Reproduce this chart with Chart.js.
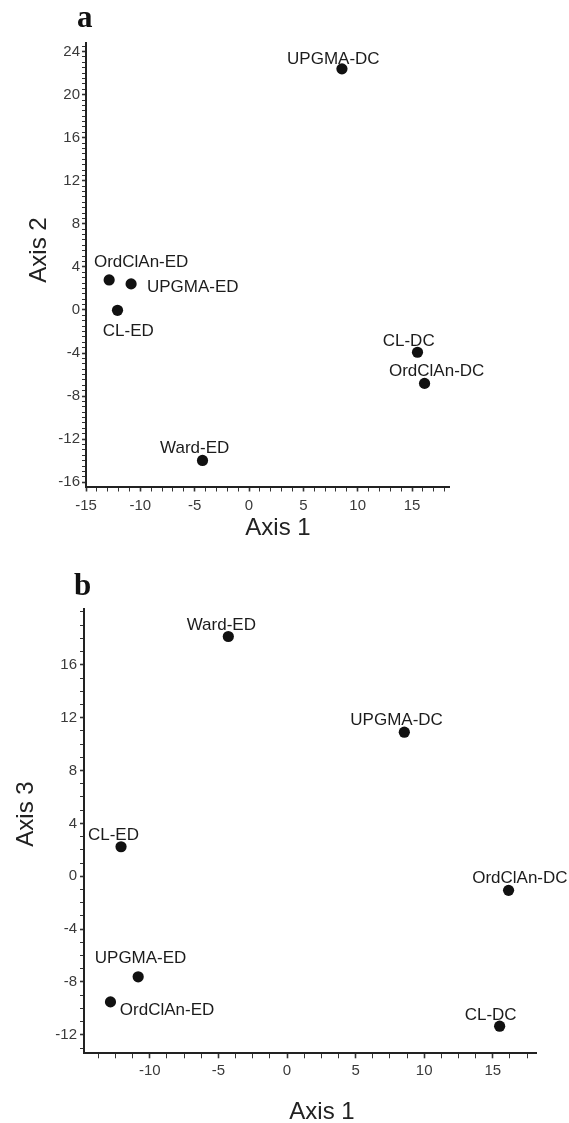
<!DOCTYPE html>
<html><head><meta charset="utf-8">
<script src="https://cdn.jsdelivr.net/npm/chart.js@4/dist/chart.umd.min.js"></script>
<style>
html,body{margin:0;padding:0;background:#fff;width:569px;height:1123px;overflow:hidden}
.wrap{position:absolute;left:0;width:569px}
canvas{display:block}
</style></head><body>
<div class="wrap" style="top:0;height:560px"><canvas id="ca" width="569" height="560"></canvas></div>
<div class="wrap" style="top:560px;height:563px"><canvas id="cb" width="569" height="563"></canvas></div>
<script>
// ---- data ----
const labels = ['UPGMA-DC','CL-DC','OrdClAn-DC','OrdClAn-ED','UPGMA-ED','CL-ED','Ward-ED'];
const axis1 = [8.55, 15.5, 16.15, -12.87, -10.85, -12.1, -4.28];
const axis2 = [22.4, -3.93, -6.82, 2.79, 2.42, -0.03, -13.98];
const axis3 = [10.9, -11.35, -1.07, -9.51, -7.61, 2.23, 18.14];
const ticksA_x = [-15, -10, -5, 0, 5, 10, 15];
const ticksA_y = [-16, -12, -8, -4, 0, 4, 8, 12, 16, 20, 24];
const ticksB_x = [-10, -5, 0, 5, 10, 15];
const ticksB_y = [-12, -8, -4, 0, 4, 8, 12, 16];

// ---- styling / layout ----
const FAM = '"Liberation Sans", Arial, Helvetica, sans-serif';
const offsetsA = [[-8.6,-11.3],[-8.8,-12.3],[12.1,-13.3],[32,-19.3],[61.6,2],[10.8,19.7],[-7.8,-13.3]];
const offsetsB = [[-7.7,-13],[-9,-12.7],[11.3,-13.6],[56.6,7.3],[2.4,-20],[-7.6,-12.7],[-7,-12.4]];

function round2(v){ return Math.round(v*100)/100; }

function makePlugin(offsets, letter, letterPos, xTitle, xTitlePos, yTitle, yTitlePos){
  return {
    id: 'deco',
    afterDatasetsDraw(chart){
      const ctx = chart.ctx;
      const meta = chart.getDatasetMeta(0);
      ctx.save();
      ctx.font = '17px ' + FAM;
      ctx.fillStyle = '#1c1c1c';
      ctx.textAlign = 'center';
      ctx.textBaseline = 'alphabetic';
      meta.data.forEach((pt, i) => {
        const o = offsets[i];
        ctx.fillText(labels[i], pt.x + o[0], pt.y + o[1] + 6.1);
      });
      // axis titles
      ctx.font = '24px ' + FAM;
      ctx.fillStyle = '#222';
      ctx.fillText(xTitle, xTitlePos[0], xTitlePos[1] + 8.6);
      ctx.save();
      ctx.translate(yTitlePos[0], yTitlePos[1]);
      ctx.rotate(-Math.PI/2);
      ctx.fillText(yTitle, 0, 8.6);
      ctx.restore();
      // panel letter
      ctx.font = 'bold 31px "Liberation Serif", "Times New Roman", serif';
      ctx.fillStyle = '#111';
      ctx.textAlign = 'left';
      ctx.fillText(letter, letterPos[0], letterPos[1]);
      ctx.restore();
    }
  };
}

function axisCfg(min, max, step, majors, tickLen, pad, fitKey, fitVal){
  return {
    type: 'linear', min, max,
    border: {display: true, color: '#222', width: 2},
    grid: {
      display: true, drawOnChartArea: false, drawTicks: true,
      tickLength: tickLen, tickColor: '#333',
      tickWidth: c => (c.tick && majors.includes(round2(c.tick.value))) ? 1.6 : 1
    },
    ticks: {
      stepSize: step, autoSkip: false, includeBounds: false, maxRotation: 0, minRotation: 0,
      padding: pad, color: '#3a3a3a', font: {size: 15, family: FAM},
      callback: v => { const r = round2(v); return majors.includes(r) ? String(r === 0 ? 0 : r) : ''; }
    },
    afterFit: s => { s[fitKey] = fitVal; }
  };
}

function makeChart(id, xs, ys, cfg){
  return new Chart(document.getElementById(id), {
    type: 'scatter',
    data: { datasets: [{
      data: xs.map((x, i) => ({x, y: ys[i]})),
      pointRadius: 5.6, pointHoverRadius: 5.6,
      backgroundColor: '#111', borderWidth: 0
    }]},
    options: {
      responsive: false, maintainAspectRatio: false, animation: false,
      layout: { padding: cfg.padding },
      plugins: { legend: {display: false}, tooltip: {enabled: false}, title: {display: false} },
      scales: { x: cfg.x, y: cfg.y }
    },
    plugins: [cfg.plugin]
  });
}

makeChart('ca', axis1, axis2, {
  padding: {left: 0, right: 120, top: 43, bottom: 0},
  x: axisCfg(-15, 18.4, 1, ticksA_x, 5, 5.5, 'height', 73.5),
  y: axisCfg(-16.4, 24.8, 0.5, ticksA_y, 4, 2, 'width', 86),
  plugin: makePlugin(offsetsA, 'a', [77, 27], 'Axis 1', [278, 526.7], 'Axis 2', [37.5, 250])
});

makeChart('cb', axis1, axis3, {
  padding: {left: 0, right: 33, top: 49.3, bottom: 0},
  x: axisCfg(-14.8, 18.15, 1.25, ticksB_x, 5, 3.4, 'height', 69.7),
  y: axisCfg(-13.4, 20.2, 1, ticksB_y, 4, 3, 'width', 84),
  plugin: makePlugin(offsetsB, 'b', [74, 35], 'Axis 1', [322, 550], 'Axis 3', [24, 254])
});
</script>
</body></html>
